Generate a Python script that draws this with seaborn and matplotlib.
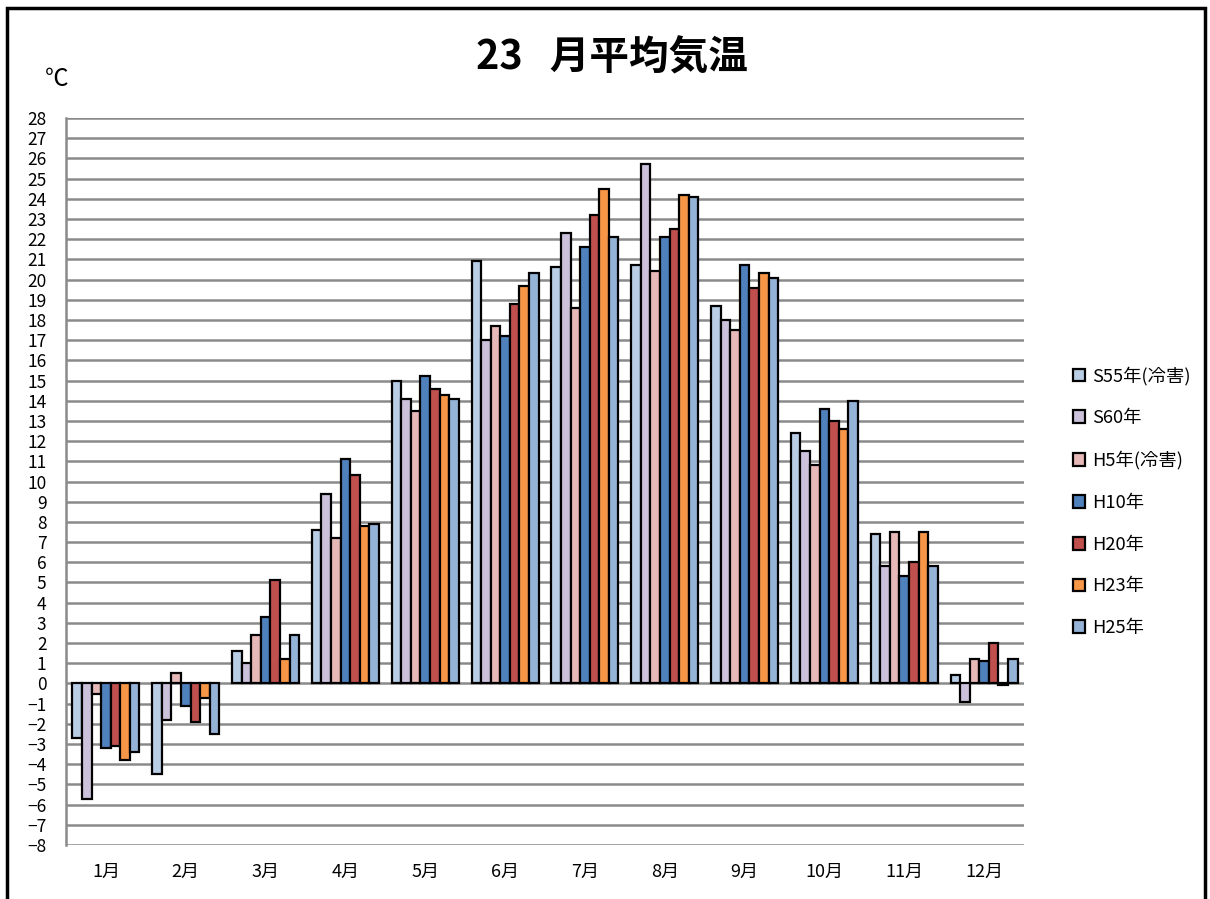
import matplotlib
matplotlib.use('Agg')
import matplotlib.pyplot as plt
from matplotlib.patches import Patch, Rectangle
import pandas as pd
import seaborn as sns

# monthly mean temperature (deg C)
months = ['1月', '2月', '3月', '4月', '5月', '6月', '7月', '8月', '9月', '10月', '11月', '12月']
years = ['S55年(冷害)', 'S60年', 'H5年(冷害)', 'H10年', 'H20年', 'H23年', 'H25年']

s55 = [-2.7, -4.5, 1.6, 7.6, 15.0, 20.9, 20.6, 20.7, 18.7, 12.4, 7.4, 0.4]
s60 = [-5.7, -1.8, 1.0, 9.4, 14.1, 17.0, 22.3, 25.7, 18.0, 11.5, 5.8, -0.9]
h5 = [-0.5, 0.5, 2.4, 7.2, 13.5, 17.7, 18.6, 20.4, 17.5, 10.8, 7.5, 1.2]
h10 = [-3.2, -1.1, 3.3, 11.1, 15.2, 17.2, 21.6, 22.1, 20.7, 13.6, 5.3, 1.1]
h20 = [-3.1, -1.9, 5.1, 10.3, 14.6, 18.8, 23.2, 22.5, 19.6, 13.0, 6.0, 2.0]
h23 = [-3.8, -0.7, 1.2, 7.8, 14.3, 19.7, 24.5, 24.2, 20.3, 12.6, 7.5, -0.1]
h25 = [-3.4, -2.5, 2.4, 7.9, 14.1, 20.3, 22.1, 24.1, 20.1, 14.0, 5.8, 1.2]

colors = ['#B9CDE5', '#CCC1DA', '#E6B9B8', '#4F81BD', '#C0504D', '#F79646', '#95B3D7']

series = [s55, s60, h5, h10, h20, h23, h25]
rows = []
for year, vals in zip(years, series):
    for m, v in zip(months, vals):
        rows.append({'month': m, 'temp': v, 'year': year})
df = pd.DataFrame(rows)

sns.set_style('white')
plt.rcParams['font.family'] = ['Noto Sans CJK JP', 'DejaVu Sans']
plt.rcParams['text.color'] = 'black'
plt.rcParams['xtick.color'] = 'black'
plt.rcParams['ytick.color'] = 'black'

fig = plt.figure(figsize=(12.1, 8.99), dpi=100)
ax = fig.add_axes([66 / 1210, 1 - 845 / 899, (1024 - 66) / 1210, (845 - 118) / 899])

sns.barplot(data=df, x='month', y='temp', hue='year', order=months, hue_order=years,
            palette=colors, saturation=1, width=0.84, edgecolor='black', linewidth=1.6,
            gap=0, legend=False, ax=ax)

ax.set_ylim(-8, 28)
ax.set_yticks(range(-8, 29))
ax.set_xlim(-0.5, 11.5)
ax.yaxis.grid(True, color='#8a8a8a', linewidth=1.8)
ax.set_axisbelow(True)
for s in ['top', 'right', 'bottom']:
    ax.spines[s].set_visible(False)
ax.spines['left'].set_color('#8a8a8a')
ax.spines['left'].set_linewidth(1.8)
ax.tick_params(axis='y', length=4, color='#8a8a8a', labelcolor='black', pad=10, labelsize=12.5)
ax.tick_params(axis='x', length=0, labelcolor='black', pad=13, labelsize=13)
ax.set_xlabel('')
ax.set_ylabel('')

handles = [Patch(facecolor=c, edgecolor='black', linewidth=1.6) for c in colors]
fig.legend(handles, years, loc='upper left', bbox_to_anchor=(1056 / 1210, 1 - 350 / 899),
           frameon=False, fontsize=13.2, labelspacing=1.3, handlelength=0.7,
           handleheight=0.7, handletextpad=0.35)

fig.text(612 / 1210, 1 - 58 / 899, '23   月平均気温', ha='center', va='center',
         fontsize=28.5, fontweight='bold', color='black')
fig.text(57 / 1210, 1 - 80 / 899, '℃', ha='center', va='center', fontsize=17, color='black')

# outer frame of the chart
fig.patches.append(Rectangle((7 / 1210, -0.02), (1205 - 7) / 1210, 1.02 - 8 / 899,
                             transform=fig.transFigure, fill=False,
                             edgecolor='black', linewidth=2.5))

fig.savefig('out.png', dpi=100)
